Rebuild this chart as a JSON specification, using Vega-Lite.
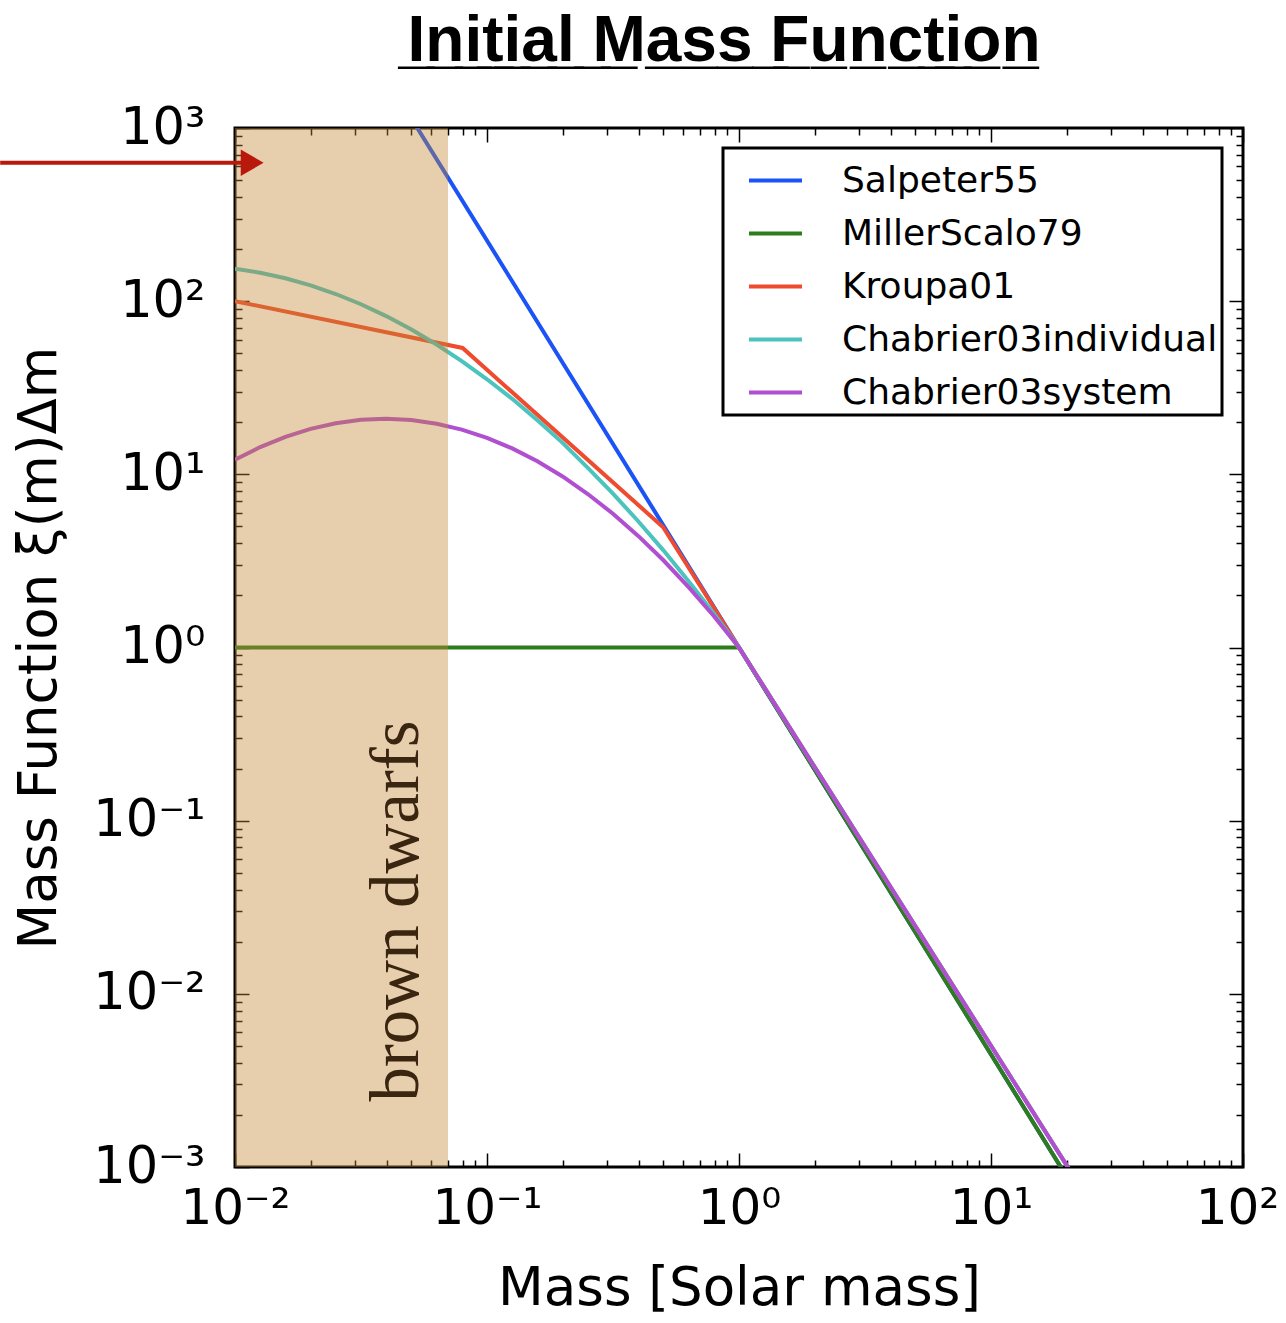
{
  "$schema": "https://vega.github.io/schema/vega-lite/v6.json",
  "description": "Initial mass function: several IMF models on log-log axes with the brown dwarf range shaded.",
  "width": 1008,
  "height": 1039,
  "autosize": {"type": "none"},
  "padding": {"left": 235, "top": 128, "right": 43, "bottom": 156},
  "background": "white",
  "title": {
    "text": "I\u0332n\u0332i\u0332t\u0332i\u0332a\u0332l\u0332 \u0332M\u0332a\u0332s\u0332s\u0332 \u0332F\u0332u\u0332n\u0332c\u0332t\u0332i\u0332o\u0332n\u0332",
    "font": "Liberation Sans",
    "fontSize": 64,
    "fontWeight": "bold",
    "color": "black",
    "anchor": "middle",
    "dx": -15,
    "offset": 28
  },
  "config": {
    "view": {"stroke": "black", "strokeWidth": 3},
    "legend": {"strokeWidth": 3},
    "axis": {"grid": false, "domain": false}
  },
  "datasets": {
    "imf": [
      {"model": "Salpeter55", "m": 0.04, "v": 1928},
      {"model": "Salpeter55", "m": 1, "v": 1},
      {"model": "Salpeter55", "m": 25, "v": 0.000519},
      {"model": "MillerScalo79", "m": 0.01, "v": 1},
      {"model": "MillerScalo79", "m": 1, "v": 1},
      {"model": "MillerScalo79", "m": 25, "v": 0.000519},
      {"model": "Kroupa01", "m": 0.01, "v": 100},
      {"model": "Kroupa01", "m": 0.08, "v": 53.7},
      {"model": "Kroupa01", "m": 0.5, "v": 4.95},
      {"model": "Kroupa01", "m": 1, "v": 1},
      {"model": "Kroupa01", "m": 25, "v": 0.00061},
      {"model": "Chabrier03individual", "m": 0.01, "v": 153.8},
      {"model": "Chabrier03individual", "m": 0.01259, "v": 145.9},
      {"model": "Chabrier03individual", "m": 0.01585, "v": 135.6},
      {"model": "Chabrier03individual", "m": 0.01995, "v": 123.4},
      {"model": "Chabrier03individual", "m": 0.02512, "v": 110.0},
      {"model": "Chabrier03individual", "m": 0.03162, "v": 96.0},
      {"model": "Chabrier03individual", "m": 0.03981, "v": 82.0},
      {"model": "Chabrier03individual", "m": 0.05012, "v": 68.6},
      {"model": "Chabrier03individual", "m": 0.0631, "v": 56.2},
      {"model": "Chabrier03individual", "m": 0.07943, "v": 45.1},
      {"model": "Chabrier03individual", "m": 0.1, "v": 35.4},
      {"model": "Chabrier03individual", "m": 0.1259, "v": 27.3},
      {"model": "Chabrier03individual", "m": 0.1585, "v": 20.5},
      {"model": "Chabrier03individual", "m": 0.1995, "v": 15.2},
      {"model": "Chabrier03individual", "m": 0.2512, "v": 10.9},
      {"model": "Chabrier03individual", "m": 0.3162, "v": 7.74},
      {"model": "Chabrier03individual", "m": 0.3981, "v": 5.36},
      {"model": "Chabrier03individual", "m": 0.5012, "v": 3.64},
      {"model": "Chabrier03individual", "m": 0.631, "v": 2.41},
      {"model": "Chabrier03individual", "m": 0.7943, "v": 1.57},
      {"model": "Chabrier03individual", "m": 1, "v": 1},
      {"model": "Chabrier03individual", "m": 25, "v": 0.00061},
      {"model": "Chabrier03system", "m": 0.01, "v": 12.15},
      {"model": "Chabrier03system", "m": 0.01259, "v": 14.37},
      {"model": "Chabrier03system", "m": 0.01585, "v": 16.47},
      {"model": "Chabrier03system", "m": 0.01995, "v": 18.31},
      {"model": "Chabrier03system", "m": 0.02512, "v": 19.74},
      {"model": "Chabrier03system", "m": 0.03162, "v": 20.64},
      {"model": "Chabrier03system", "m": 0.03981, "v": 20.92},
      {"model": "Chabrier03system", "m": 0.05012, "v": 20.57},
      {"model": "Chabrier03system", "m": 0.0631, "v": 19.6},
      {"model": "Chabrier03system", "m": 0.07943, "v": 18.12},
      {"model": "Chabrier03system", "m": 0.1, "v": 16.24},
      {"model": "Chabrier03system", "m": 0.1259, "v": 14.12},
      {"model": "Chabrier03system", "m": 0.1585, "v": 11.9},
      {"model": "Chabrier03system", "m": 0.1995, "v": 9.72},
      {"model": "Chabrier03system", "m": 0.2512, "v": 7.7},
      {"model": "Chabrier03system", "m": 0.3162, "v": 5.92},
      {"model": "Chabrier03system", "m": 0.3981, "v": 4.41},
      {"model": "Chabrier03system", "m": 0.5012, "v": 3.19},
      {"model": "Chabrier03system", "m": 0.631, "v": 2.23},
      {"model": "Chabrier03system", "m": 0.7943, "v": 1.52},
      {"model": "Chabrier03system", "m": 1, "v": 1},
      {"model": "Chabrier03system", "m": 25, "v": 0.00061}
    ],
    "zone": [{"m0": 0.01, "m1": 0.07}],
    "label": [{"m": 0.044, "v": 0.0301, "text": "brown dwarfs"}],
    "arrow": [{"m0": 0.00117, "m1": 0.0108, "v": 630, "tip": 0.0117}]
  },
  "resolve": {"axis": {"x": "independent", "y": "independent"}},
  "layer": [
    {
      "data": {"name": "imf"},
      "mark": {"type": "line", "strokeWidth": 4, "clip": true},
      "encoding": {
        "x": {
          "field": "m",
          "type": "quantitative",
          "scale": {"type": "log", "domain": [0.01, 100], "nice": false},
          "axis": {
            "orient": "bottom",
            "title": "Mass [Solar mass]",
            "titleFont": "DejaVu Sans",
            "titleFontSize": 53,
            "titleFontWeight": "normal",
            "titleColor": "black",
            "titlePadding": 22,
            "values": [0.01, 0.02, 0.03, 0.04, 0.05, 0.06, 0.07, 0.08, 0.09, 0.1, 0.2, 0.3, 0.4, 0.5, 0.6, 0.7, 0.8, 0.9, 1, 2, 3, 4, 5, 6, 7, 8, 9, 10, 20, 30, 40, 50, 60, 70, 80, 90, 100],
            "labelExpr": "abs(log(datum.value)/LN10 - round(log(datum.value)/LN10)) < 0.001 ? ['10⁻²','10⁻¹','10⁰','10¹','10²'][round(log(datum.value)/LN10)+2] : ''",
            "labelFont": "DejaVu Sans",
            "labelFontSize": 50,
            "labelColor": "black",
            "labelOverlap": false,
            "labelFlush": false,
            "labelPadding": 30,
            "labelOffset": {
              "condition": {"test": "datum.value > 50", "value": -6},
              "value": 0
            },
            "tickColor": "black",
            "tickWidth": 1.5,
            "tickSize": {
              "condition": {"test": "abs(log(datum.value)/LN10 - round(log(datum.value)/LN10)) < 0.001", "value": -14},
              "value": -7
            }
          }
        },
        "y": {
          "field": "v",
          "type": "quantitative",
          "scale": {"type": "log", "domain": [0.001, 1000], "nice": false},
          "axis": {
            "orient": "left",
            "title": "Mass Function ξ(m)Δm",
            "titleFont": "DejaVu Sans",
            "titleFontSize": 53,
            "titleFontWeight": "normal",
            "titleColor": "black",
            "titlePadding": 26,
            "values": [0.001, 0.002, 0.003, 0.004, 0.005, 0.006, 0.007, 0.008, 0.009, 0.01, 0.02, 0.03, 0.04, 0.05, 0.06, 0.07, 0.08, 0.09, 0.1, 0.2, 0.3, 0.4, 0.5, 0.6, 0.7, 0.8, 0.9, 1, 2, 3, 4, 5, 6, 7, 8, 9, 10, 20, 30, 40, 50, 60, 70, 80, 90, 100, 200, 300, 400, 500, 600, 700, 800, 900, 1000],
            "labelExpr": "abs(log(datum.value)/LN10 - round(log(datum.value)/LN10)) < 0.001 ? ['10⁻³','10⁻²','10⁻¹','10⁰','10¹','10²','10³'][round(log(datum.value)/LN10)+3] : ''",
            "labelFont": "DejaVu Sans",
            "labelFontSize": 51,
            "labelColor": "black",
            "labelOverlap": false,
            "labelFlush": false,
            "labelPadding": 44,
            "tickColor": "black",
            "tickWidth": 1.5,
            "tickSize": {
              "condition": {"test": "abs(log(datum.value)/LN10 - round(log(datum.value)/LN10)) < 0.001", "value": -14},
              "value": -7
            }
          }
        },
        "color": {
          "field": "model",
          "type": "nominal",
          "sort": ["Salpeter55", "MillerScalo79", "Kroupa01", "Chabrier03individual", "Chabrier03system"],
          "scale": {
            "domain": ["Salpeter55", "MillerScalo79", "Kroupa01", "Chabrier03individual", "Chabrier03system"],
            "range": ["#1b53f7", "#2e7d1c", "#ee4b2f", "#4cc3bd", "#b14fd1"]
          },
          "legend": {
            "title": null,
            "orient": "none",
            "legendX": 488,
            "legendY": 20,
            "symbolType": "stroke",
            "symbolSize": 2809,
            "symbolStrokeWidth": 4,
            "labelFont": "DejaVu Sans",
            "labelFontSize": 36,
            "labelColor": "black",
            "labelLimit": 600,
            "labelOffset": 38,
            "strokeColor": "black",
            "fillColor": "white",
            "padding": 4,
            "symbolOffset": 20,
            "rowPadding": 6
          }
        }
      }
    },
    {
      "data": {"name": "zone"},
      "mark": {"type": "rect", "color": "#c38734", "opacity": 0.4, "clip": true},
      "encoding": {
        "x": {"field": "m0", "type": "quantitative", "scale": {"type": "log", "domain": [0.01, 100], "nice": false}, "axis": null},
        "x2": {"field": "m1"}
      }
    },
    {
      "data": {"name": "label"},
      "mark": {"type": "text", "angle": 270, "align": "center", "baseline": "middle", "font": "Liberation Serif", "fontSize": 69, "color": "#3a2610"},
      "encoding": {
        "x": {
          "field": "m",
          "type": "quantitative",
          "scale": {"type": "log", "domain": [0.01, 100], "nice": false},
          "axis": {
            "orient": "top",
            "title": null,
            "labels": false,
            "values": [0.01, 0.02, 0.03, 0.04, 0.05, 0.06, 0.07, 0.08, 0.09, 0.1, 0.2, 0.3, 0.4, 0.5, 0.6, 0.7, 0.8, 0.9, 1, 2, 3, 4, 5, 6, 7, 8, 9, 10, 20, 30, 40, 50, 60, 70, 80, 90, 100],
            "tickColor": "black",
            "tickWidth": 1.5,
            "tickSize": {
              "condition": {"test": "abs(log(datum.value)/LN10 - round(log(datum.value)/LN10)) < 0.001", "value": -14},
              "value": -7
            }
          }
        },
        "y": {
          "field": "v",
          "type": "quantitative",
          "scale": {"type": "log", "domain": [0.001, 1000], "nice": false},
          "axis": {
            "orient": "right",
            "title": null,
            "labels": false,
            "values": [0.001, 0.002, 0.003, 0.004, 0.005, 0.006, 0.007, 0.008, 0.009, 0.01, 0.02, 0.03, 0.04, 0.05, 0.06, 0.07, 0.08, 0.09, 0.1, 0.2, 0.3, 0.4, 0.5, 0.6, 0.7, 0.8, 0.9, 1, 2, 3, 4, 5, 6, 7, 8, 9, 10, 20, 30, 40, 50, 60, 70, 80, 90, 100, 200, 300, 400, 500, 600, 700, 800, 900, 1000],
            "tickColor": "black",
            "tickWidth": 1.5,
            "tickSize": {
              "condition": {"test": "abs(log(datum.value)/LN10 - round(log(datum.value)/LN10)) < 0.001", "value": -14},
              "value": -7
            }
          }
        },
        "text": {"field": "text"}
      }
    },
    {
      "data": {"name": "arrow"},
      "mark": {"type": "rule", "color": "#b8190a", "strokeWidth": 4, "clip": false},
      "encoding": {
        "x": {"field": "m0", "type": "quantitative", "scale": {"type": "log", "domain": [0.01, 100], "nice": false}, "axis": null},
        "x2": {"field": "m1"},
        "y": {"field": "v", "type": "quantitative", "scale": {"type": "log", "domain": [0.001, 1000], "nice": false}, "axis": null}
      }
    },
    {
      "data": {"name": "arrow"},
      "mark": {"type": "point", "shape": "triangle-right", "filled": true, "color": "#b8190a", "opacity": 1, "size": 700},
      "encoding": {
        "x": {"field": "tip", "type": "quantitative", "scale": {"type": "log", "domain": [0.01, 100], "nice": false}, "axis": null},
        "y": {"field": "v", "type": "quantitative", "scale": {"type": "log", "domain": [0.001, 1000], "nice": false}, "axis": null}
      }
    }
  ]
}
